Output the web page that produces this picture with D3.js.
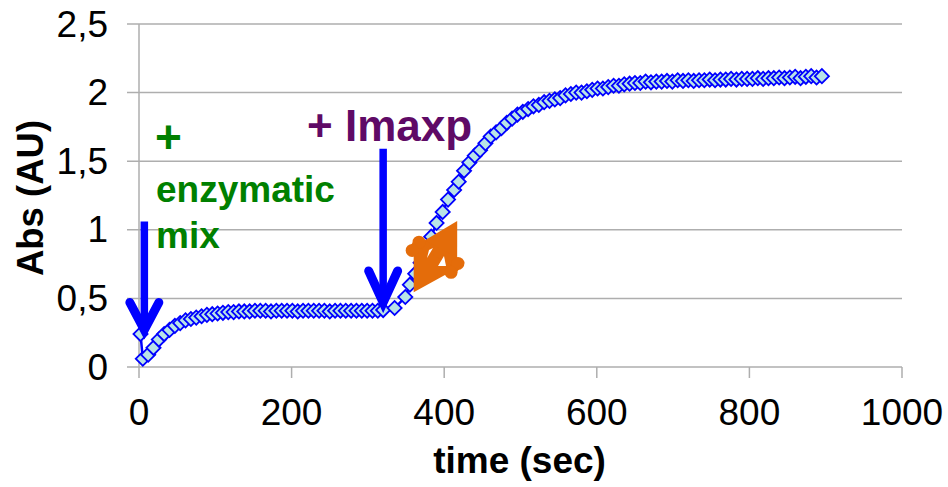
<!DOCTYPE html>
<html><head><meta charset="utf-8">
<script src="https://cdn.jsdelivr.net/npm/d3@7"></script>
<style>html,body{margin:0;background:#fff}svg{display:block}text{font-family:"Liberation Sans",Arial,sans-serif}</style>
</head><body><svg id="c" width="948" height="487"></svg>
<script>
const xTicks=[0,200,400,600,800,1000];
const yTicks=[0,0.5,1,1.5,2,2.5];
const yTickLabels=["0","0,5","1","1,5","2","2,5"];
const times=[2,5,12,19,26,33,40,47,54,61,68,75,82,89,96,103,110,117,124,131,138,145,152,159,166,173,180,187,194,201,208,215,222,229,236,243,250,257,264,271,278,285,292,299,306,313,320,335,349,355,362,369,376,383,390,398,405,413,419,426,433,440,447,454,461,468,475,482,489,496,503,510,517,524,531,538,545,552,559,566,573,580,587,594,601,608,615,622,629,636,643,650,657,664,671,678,685,692,699,706,713,720,727,734,741,748,755,762,769,776,783,790,797,804,811,818,825,832,839,846,853,860,867,874,881,888,895];
const absorbance=[.24,.06,.09,.14,.2,.24,.27,.3,.32,.34,.35,.36,.37,.38,.385,.39,.395,.4,.4,.405,.405,.405,.41,.41,.41,.405,.41,.41,.41,.41,.405,.41,.41,.41,.41,.41,.405,.41,.41,.41,.41,.41,.41,.41,.41,.41,.415,.43,.51,.6,.68,.76,.84,.95,1.05,1.13,1.22,1.29,1.35,1.43,1.49,1.54,1.58,1.63,1.68,1.71,1.74,1.78,1.81,1.84,1.86,1.88,1.9,1.91,1.93,1.94,1.95,1.96,1.98,1.99,2,2,2.01,2.02,2.03,2.03,2.04,2.05,2.05,2.06,2.065,2.07,2.07,2.08,2.075,2.08,2.08,2.085,2.08,2.09,2.085,2.09,2.085,2.09,2.09,2.095,2.09,2.095,2.095,2.1,2.095,2.1,2.1,2.1,2.105,2.1,2.105,2.105,2.11,2.105,2.11,2.115,2.105,2.115,2.12,2.11,2.12];
const orangeBlockT=[360,360,417,417];
const orangeBlockV=[.545,.875,1.065,.72];
const orangeDotT=[367,358,418,409];
const orangeDotV=[.91,.85,.755,.69];
const arrowT=[7,320];
const arrowTop=[1.06,1.59];
const arrowTip=[.27,.47];
const arrowWingDT=[19,19];
const arrowWingV=[.47,.7];

const svg=d3.select("#c");
const x=d3.scaleLinear().domain([0,1000]).range([139,902]);
const y=d3.scaleLinear().domain([0,2.5]).range([367,24]);
const grey="#aeaeae";
const fs=37;

svg.append("g").selectAll("line").data(yTicks).join("line")
 .attr("x1",127).attr("x2",902).attr("y1",d=>y(d)).attr("y2",d=>y(d))
 .attr("stroke",grey).attr("stroke-width",1.5);
svg.append("line").attr("x1",139).attr("x2",139).attr("y1",24).attr("y2",367).attr("stroke",grey).attr("stroke-width",1.5);
svg.append("g").selectAll("line").data(xTicks).join("line")
 .attr("x1",d=>x(d)).attr("x2",d=>x(d)).attr("y1",367).attr("y2",378)
 .attr("stroke",grey).attr("stroke-width",1.5);

svg.append("g").selectAll("text").data(yTicks).join("text")
 .attr("x",108).attr("y",d=>y(d)+12.5).attr("text-anchor","end").attr("font-size",fs).attr("fill","#000")
 .text((d,i)=>yTickLabels[i]);
svg.append("g").selectAll("text").data(xTicks).join("text")
 .attr("x",d=>x(d)).attr("y",425).attr("text-anchor","middle").attr("font-size",fs).attr("fill","#000")
 .text(d=>d);

svg.append("text").attr("x",519.5).attr("y",473).attr("text-anchor","middle").attr("font-size",37).attr("font-weight","bold").text("time (sec)");
svg.append("text").attr("transform","translate(43,198) rotate(-90)").attr("text-anchor","middle").attr("font-size",36.5).attr("font-weight","bold").text("Abs (AU)");

const pts=times.map((t,i)=>[t,absorbance[i]]);
svg.append("path").attr("d",d3.line().x(d=>x(d[0])).y(d=>y(d[1]))(pts)).attr("fill","none").attr("stroke","#0000ff").attr("stroke-width",2.5);
svg.append("g").selectAll("rect").data(pts).join("rect")
 .attr("x",-5).attr("y",-5).attr("width",10).attr("height",10)
 .attr("transform",d=>`translate(${x(d[0])},${y(d[1])}) rotate(45)`)
 .attr("fill","#b9e3e6").attr("stroke","#0000ff").attr("stroke-width",1.8);

// orange annotation
const og=svg.append("g");
const blk=orangeBlockT.map((t,i)=>[x(t),y(orangeBlockV[i])]);
og.append("path").attr("d","M"+blk.join("L")+"Z").attr("fill","#e46c0a");
const dots=orangeDotT.map((t,i)=>[x(t),y(orangeDotV[i])]);
og.append("path").attr("d",`M${dots[1]}L${dots[0]}L${dots[2]}L${dots[3]}`).attr("fill","none").attr("stroke","#e46c0a").attr("stroke-width",9);
og.selectAll("circle").data(dots).join("circle").attr("cx",d=>d[0]).attr("cy",d=>d[1]).attr("r",6.5).attr("fill","#e46c0a");
og.append("path").attr("d","M438,266L446,266L444,256Z").attr("fill","#fff");
og.append("path").attr("d","M427,258L433,248L429,250Z").attr("fill","#fff");

// arrows
const ag=svg.append("g").attr("fill","none").attr("stroke","#0000ff").attr("stroke-linecap","round").attr("stroke-linejoin","miter");
arrowT.forEach((t,i)=>{
  const xp=x(t);
  ag.append("line").attr("x1",xp).attr("x2",xp).attr("y1",y(arrowTop[i])).attr("y2",y(arrowTip[i])-4).attr("stroke-width",7.5).attr("stroke-linecap","butt");
  ag.append("path").attr("d",`M${x(t-arrowWingDT[i])},${y(arrowWingV[i])}L${xp},${y(arrowTip[i])}L${x(t+arrowWingDT[i])},${y(arrowWingV[i])}`).attr("stroke-width",9);
});

svg.append("text").attr("x",155).attr("y",153).attr("font-size",46).attr("font-weight","bold").attr("fill","#008000").text("+");
svg.append("text").attr("x",156).attr("y",202).attr("font-size",37).attr("font-weight","bold").attr("fill","#008000").text("enzymatic");
svg.append("text").attr("x",156).attr("y",248).attr("font-size",37).attr("font-weight","bold").attr("fill","#008000").text("mix");
svg.append("text").attr("x",307).attr("y",141).attr("font-size",44).attr("font-weight","bold").attr("fill","#5f0a66").text("+ Imaxp");
</script></body></html>
